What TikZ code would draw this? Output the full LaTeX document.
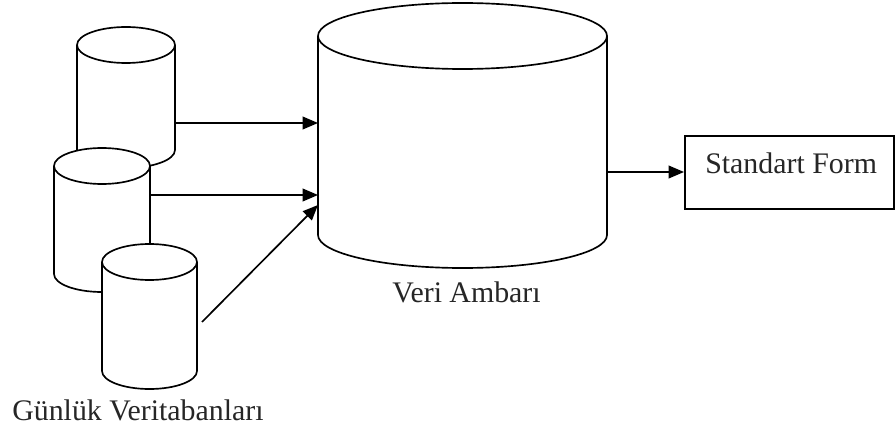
\documentclass[tikz,border=0pt]{standalone}
\usepackage{fontspec}
\setmainfont{Liberation Serif}
\usetikzlibrary{arrows.meta}
\newcommand{\dbcylinder}[5]{% cx, rx, ytop, ybot, ry
  \path[cylline, fill=white] ({#1-#2},#3) -- ({#1-#2},#4)
    arc[start angle=180,end angle=0,x radius=#2,y radius=#5]
    -- ({#1+#2},#3)
    arc[start angle=0,end angle=-180,x radius=#2,y radius=#5] -- cycle;
  \draw[cylline] ({#1-#2},#3) arc[start angle=180,end angle=0,x radius=#2,y radius=#5];
}
\begin{document}
\begin{tikzpicture}[x=0.75pt,y=-0.75pt,
  cylline/.style={draw=black, line width=1.25pt},
  conn/.style={draw=black, line width=1.25pt, -{Triangle[length=11.5pt,width=9.5pt]}},
  lbl/.style={inner sep=0pt, anchor=base west, font=\fontsize{22.4}{27}\selectfont, text=black!85}]
\useasboundingbox (0,0) rectangle (895,431);
\fill[white] (0,0) rectangle (895,431);

% source databases
\dbcylinder{126}{49}{45}{150}{18}
\dbcylinder{102}{48}{166}{274}{18}
\dbcylinder{149.5}{47.5}{262}{371}{18}
% data warehouse
\dbcylinder{462.5}{144.5}{36}{235}{33}

% labels
\node[lbl] (gunluk) at (12,420) {Günlük Veritabanları};
\node[lbl] (veriamb) at (392,302) {Veri Ambarı};

% standard form box
\node[draw=black, line width=1.25pt, minimum width=156.75pt, minimum height=54.75pt,
      anchor=north west, inner sep=0pt] (stdform) at (684,135) {};
\node[lbl] (stdtxt) at (705,173) {Standart Form};

% connector ends
\coordinate (c1out) at (175,123);
\coordinate (dw1) at (318,123);
\coordinate (c2out) at (150,195);
\coordinate (dw2) at (318,195);
\coordinate (c3out) at (202,322);
\coordinate (dw3) at (318,205);
\coordinate (dwout) at (607,172);

\draw[conn] (c1out) -- (dw1);
\draw[conn] (c2out) -- (dw2);
\draw[conn] (c3out) -- (dw3);
\draw[conn] (dwout) -- (stdform.west |- dwout);
\end{tikzpicture}
\end{document}
